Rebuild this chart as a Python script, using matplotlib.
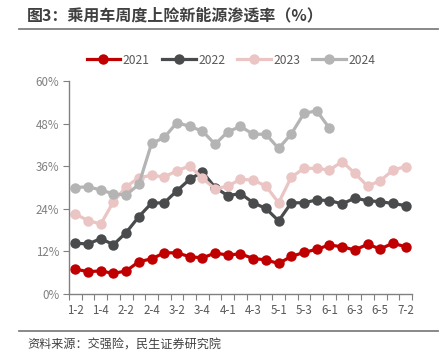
import matplotlib
matplotlib.use('Agg')
import matplotlib.pyplot as plt
from matplotlib.lines import Line2D
from matplotlib.ticker import MultipleLocator, FixedLocator

plt.rcParams['font.family'] = ['Noto Sans CJK SC', 'DejaVu Sans']

weeks = ['1-2', '1-3', '1-4', '2-1', '2-2', '2-3', '2-4', '3-1', '3-2', '3-3',
         '3-4', '3-5', '4-1', '4-2', '4-3', '4-4', '5-1', '5-2', '5-3', '5-4',
         '6-1', '6-2', '6-3', '6-4', '6-5', '7-1', '7-2']

y2021 = [7.0, 6.3, 6.5, 5.8, 6.5, 9.1, 9.9, 11.6, 11.6, 10.5, 10.2, 11.5, 11.0, 11.3,
         10.0, 9.6, 8.6, 10.6, 11.7, 12.6, 13.8, 13.3, 12.4, 14.0, 12.7, 14.3, 13.3]
y2022 = [14.3, 14.1, 15.6, 13.9, 17.3, 21.8, 25.6, 25.7, 29.1, 32.3, 34.4, 30.0, 27.7, 28.3,
         25.7, 24.1, 20.6, 25.7, 25.7, 26.5, 26.3, 25.4, 27.0, 26.3, 26.0, 25.5, 24.9]
y2023 = [22.5, 20.7, 19.7, 26.0, 30.2, 32.8, 33.4, 33.0, 34.7, 36.1, 32.6, 29.6, 30.4, 32.3,
         32.1, 30.4, 25.7, 32.9, 35.4, 35.4, 34.9, 37.3, 34.0, 30.4, 31.9, 34.9, 35.9]
y2024 = [30.0, 30.2, 29.3, 28.2, 27.9, 30.9, 42.4, 44.1, 48.3, 47.2, 45.9, 42.2, 45.7, 47.2,
         45.0, 45.0, 41.0, 45.1, 50.9, 51.6, 46.7]

series = [('2021', y2021, '#C00000'),
          ('2022', y2022, '#4A4B4D'),
          ('2023', y2023, '#EBC4C4'),
          ('2024', y2024, '#B4B4B4')]

fig = plt.figure(figsize=(4.42, 3.60), dpi=100)
ax = fig.add_axes([69 / 442, 1 - 294 / 360, 343 / 442, 213 / 360])

handles = []
for name, vals, color in series:
    ax.plot(range(len(vals)), vals, color=color, lw=2.3, marker='o', ms=7.5,
            markeredgewidth=0, label=name)
    handles.append(Line2D([], [], color=color, lw=2.3, marker='o', ms=7.5,
                          markeredgewidth=0))

ax.set_xlim(-0.5, len(weeks) - 0.5)
ax.set_ylim(0, 60)
ax.yaxis.set_major_locator(MultipleLocator(12))
ax.set_yticklabels([f'{int(v)}%' for v in ax.get_yticks()])

ax.xaxis.set_major_locator(FixedLocator(range(0, len(weeks), 2)))
ax.set_xticklabels(weeks[::2])
ax.xaxis.set_minor_locator(FixedLocator([i - 0.5 for i in range(len(weeks) + 1)]))
ax.tick_params(axis='x', which='major', length=0, pad=7, labelsize=8.3, labelcolor='#595959')
ax.tick_params(axis='x', which='minor', length=4, width=0.8, color='#808080', direction='out')
ax.tick_params(axis='y', length=4, width=0.8, color='#808080', labelsize=8.3,
               labelcolor='#808080', pad=3)

for s in ['top', 'right']:
    ax.spines[s].set_visible(False)
for s in ['left', 'bottom']:
    ax.spines[s].set_color('#808080')
    ax.spines[s].set_linewidth(1.0)

fig.legend(handles, [s[0] for s in series], loc='center', bbox_to_anchor=(231 / 442, 1 - 60 / 360),
           ncol=4, frameon=False, fontsize=8.7, handlelength=2.8, handletextpad=0.2,
           columnspacing=1.0, labelcolor='#595959')

fig.text(27 / 442, 1 - 15 / 360, '图3：乘用车周度上险新能源渗透率（%）', fontsize=11.5,
         fontweight='bold', color='#404040', va='center', ha='left')
fig.add_artist(Line2D([19 / 442, 438 / 442], [1 - 28.5 / 360] * 2, color='#7F7F7F', lw=1.3))
fig.add_artist(Line2D([19 / 442, 438 / 442], [1 - 330.5 / 360] * 2, color='#7F7F7F', lw=1.3))
fig.text(27 / 442, 1 - 345 / 360, '资料来源：交强险，民生证券研究院', fontsize=8.7,
         color='#404040', va='center', ha='left')

fig.savefig('out.png', dpi=100)
